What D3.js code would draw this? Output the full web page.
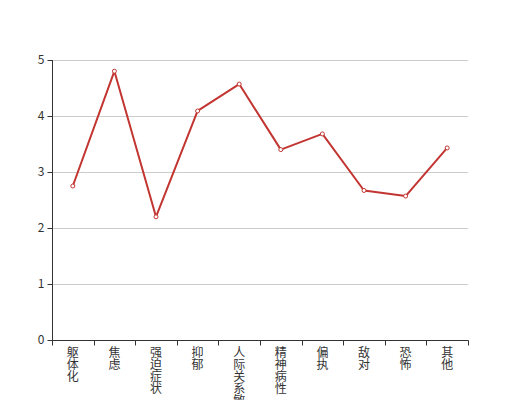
<!DOCTYPE html>
<html><head><meta charset="utf-8">
<script src="https://cdn.jsdelivr.net/npm/d3@7/dist/d3.min.js"></script>
<style>body{margin:0;background:#fff}svg{display:block}</style>
</head><body>
<svg id="c" width="520" height="400"></svg>
<script>
const categories = ["躯体化","焦虑","强迫症状","抑郁","人际关系敏感","精神病性","偏执","敌对","恐怖","其他"];
const values = [2.75, 4.80, 2.20, 4.09, 4.57, 3.40, 3.68, 2.67, 2.57, 3.43];
const yTicks = [0,1,2,3,4,5];

const svg = d3.select("#c");
const L = 52, R = 468, T = 60, B = 340;
const font = "'Noto Sans CJK SC', 'Noto Sans', sans-serif";
const x = d3.scaleBand().domain(categories).range([L, R]);
const y = d3.scaleLinear().domain([0,5]).range([B, T]);

// grid
svg.append("g").selectAll("line").data(yTicks.filter(d=>d>0)).join("line")
  .attr("x1", L).attr("x2", R)
  .attr("y1", d=>Math.round(y(d))+0.5).attr("y2", d=>Math.round(y(d))+0.5)
  .attr("stroke", "#ccc").attr("stroke-width", 1);

// y axis
const ya = svg.append("g").attr("transform", `translate(${L+0.5},0)`)
  .call(d3.axisLeft(y).tickValues(yTicks).tickFormat(d3.format("d")).tickSize(5).tickPadding(3));
ya.select(".domain").attr("stroke", "#333").attr("d", `M0,${B}V${T}`);
ya.selectAll(".tick line").attr("stroke", "#333");
ya.selectAll("text").attr("fill", "#333").style("font-size", "12px").style("font-family", font);

// x axis
const xa = svg.append("g").attr("transform", `translate(0,${B+0.5})`);
xa.append("line").attr("x1", L).attr("x2", R+0.5).attr("stroke", "#333");
const bounds = categories.map(c => x(c)).concat([R]);
xa.selectAll("line.t").data(bounds).join("line").attr("class","t")
  .attr("x1", d=>Math.round(d)+0.5).attr("x2", d=>Math.round(d)+0.5)
  .attr("y1", 0).attr("y2", 5).attr("stroke", "#333");
xa.selectAll("text").data(categories).join("text")
  .attr("fill", "#333").style("font-size", "12px").style("font-family", font)
  .style("writing-mode", "vertical-rl").style("text-orientation", "upright")
  .attr("x", d=>x(d)+x.bandwidth()/2).attr("y", 6)
  .text(d=>d);

// line
const line = d3.line().x((d,i)=>x(categories[i])+x.bandwidth()/2).y(d=>y(d));
svg.append("path").datum(values).attr("d", line)
  .attr("fill", "none").attr("stroke", "#c23531").attr("stroke-width", 2).attr("stroke-linejoin","round");
svg.append("g").selectAll("circle").data(values).join("circle")
  .attr("cx", (d,i)=>x(categories[i])+x.bandwidth()/2).attr("cy", d=>y(d))
  .attr("r", 2).attr("fill", "#fff").attr("stroke", "#c23531").attr("stroke-width", 1);
</script>
</body></html>
